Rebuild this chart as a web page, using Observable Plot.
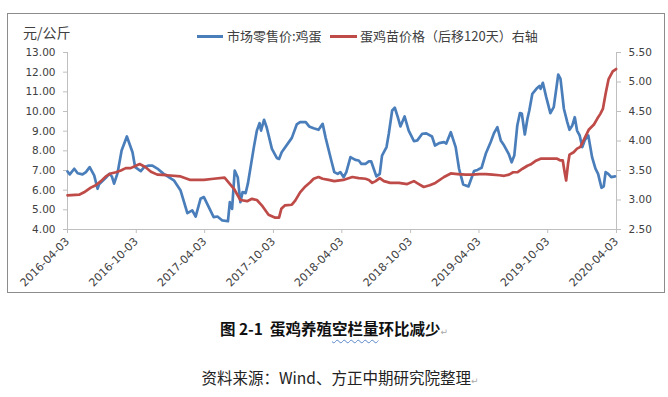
<!DOCTYPE html>
<html><head><meta charset="utf-8">
<script src="https://cdn.jsdelivr.net/npm/d3@7"></script>
<script src="https://cdn.jsdelivr.net/npm/@observablehq/plot@0.6"></script>
<style>
body{margin:0;background:#fff;}
#wrap{position:relative;width:668px;height:397px;overflow:hidden;font-family:"Noto Sans CJK SC",sans-serif;color:#404040;}
#chart{position:absolute;left:0;top:0;}
#frame{position:absolute;left:7px;top:13px;width:656px;height:278px;border:1px solid #8c8c8c;box-sizing:content-box;}
.abs{position:absolute;white-space:nowrap;line-height:16px;}
.sw{position:absolute;height:3px;}
.mark{font-family:"DejaVu Sans";font-size:9px;color:#a8a8a8;font-weight:normal;}
.wavy{text-decoration:underline wavy #5b86c9;text-underline-offset:4px;text-decoration-thickness:1px;}
</style></head>
<body><div id="wrap">
<div id="chart"></div>
<div id="frame"></div>
<div class="abs" style="left:23px;top:24px;font-size:14px;">元/公斤</div>
<div class="sw" style="left:197px;top:35px;width:26px;background:#4a7ebb;"></div>
<div class="abs" style="left:227px;top:28px;font-size:13px;">市场零售价:鸡蛋</div>
<div class="sw" style="left:330px;top:35px;width:27px;background:#be4b48;"></div>
<div class="abs" style="left:360px;top:28px;font-size:13px;">蛋鸡苗价格（后移120天）右轴</div>
<div class="abs" style="left:0;width:668px;text-align:center;top:320px;font-size:15.5px;font-weight:bold;color:#111;">图 2-1&nbsp; 蛋鸡养殖<span class="wavy">空栏量</span>环比减少<span class="mark">↵</span></div>
<div class="abs" style="left:6px;width:668px;text-align:center;top:369px;font-size:15.5px;color:#222;">资料来源：Wind、方正中期研究院整理<span class="mark">↵</span></div>
</div>
<script>
const eggDates = ["2016-04-03","2016-04-09","2016-04-21","2016-04-30","2016-05-13","2016-05-22","2016-06-01","2016-06-13","2016-06-22","2016-06-26","2016-07-14","2016-07-23","2016-07-30","2016-08-05","2016-08-14","2016-08-25","2016-09-08","2016-09-23","2016-09-30","2016-10-15","2016-10-24","2016-11-05","2016-11-15","2016-11-28","2016-12-15","2017-01-11","2017-01-29","2017-02-16","2017-03-01","2017-03-10","2017-03-23","2017-04-01","2017-04-14","2017-04-27","2017-05-07","2017-05-20","2017-06-04","2017-06-09","2017-06-15","2017-06-22","2017-06-30","2017-07-07","2017-07-13","2017-07-21","2017-07-27","2017-08-12","2017-08-20","2017-08-27","2017-08-31","2017-09-08","2017-09-15","2017-09-29","2017-10-12","2017-10-18","2017-10-25","2017-11-21","2017-12-04","2017-12-13","2017-12-28","2018-01-06","2018-01-18","2018-01-31","2018-02-11","2018-02-19","2018-03-06","2018-03-14","2018-03-23","2018-03-30","2018-04-08","2018-04-15","2018-04-26","2018-05-09","2018-05-18","2018-05-25","2018-06-05","2018-06-14","2018-06-20","2018-07-04","2018-07-13","2018-07-19","2018-07-31","2018-08-06","2018-08-15","2018-08-22","2018-08-30","2018-09-06","2018-09-17","2018-09-28","2018-10-12","2018-10-21","2018-11-03","2018-11-14","2018-11-29","2018-12-07","2018-12-18","2018-12-31","2019-01-06","2019-01-18","2019-01-31","2019-02-09","2019-02-20","2019-03-06","2019-03-21","2019-03-30","2019-04-10","2019-04-21","2019-05-04","2019-05-13","2019-05-22","2019-05-31","2019-06-09","2019-06-21","2019-06-29","2019-07-06","2019-07-14","2019-07-21","2019-07-26","2019-08-03","2019-08-10","2019-08-15","2019-08-23","2019-09-05","2019-09-11","2019-09-14","2019-09-20","2019-09-29","2019-10-10","2019-10-19","2019-10-31","2019-11-06","2019-11-15","2019-11-24","2019-11-30","2019-12-07","2019-12-14","2019-12-20","2019-12-27","2020-01-03","2020-01-10","2020-01-19","2020-01-29","2020-02-07","2020-02-14","2020-02-23","2020-02-29","2020-03-05","2020-03-12","2020-03-20","2020-03-30"];
const eggPrice = [6.95,6.8,7.09,6.86,6.8,6.92,7.17,6.75,6.07,6.3,6.63,6.83,6.7,6.33,6.85,8.02,8.73,7.93,7.17,6.97,7.17,7.25,7.25,7.1,6.83,6.5,5.98,4.83,4.97,4.66,5.56,5.65,5.14,4.63,4.66,4.46,4.42,5.39,5.05,7.0,6.66,5.39,5.9,5.85,6.33,8.19,9.03,9.41,9.03,9.58,9.2,8.1,7.64,7.59,7.93,8.66,9.34,9.46,9.46,9.24,9.15,9.07,9.37,8.66,7.51,6.92,6.83,6.92,6.66,6.92,7.68,7.54,7.51,7.34,7.34,7.46,7.47,6.7,6.83,7.76,8.19,8.87,10.05,10.19,9.71,9.24,9.75,9.03,8.49,8.53,8.87,8.89,8.73,8.27,8.39,8.44,8.37,8.95,8.19,7.09,6.29,6.19,6.97,7.03,7.14,7.85,8.44,8.9,9.2,8.53,8.27,7.85,7.42,7.76,9.29,9.92,9.9,8.83,9.63,10.05,10.9,11.2,11.3,11.15,11.46,10.73,9.92,10.22,11.88,11.66,10.14,9.46,9.07,9.27,9.71,9.03,8.78,8.19,8.56,8.78,7.68,7.09,6.83,6.12,6.19,6.92,6.83,6.66,6.7];
const chickDates = ["2016-04-03","2016-05-04","2016-05-17","2016-06-04","2016-06-17","2016-07-01","2016-07-14","2016-07-27","2016-08-10","2016-08-23","2016-09-05","2016-09-18","2016-10-02","2016-10-12","2016-10-27","2016-11-11","2016-11-28","2016-12-24","2017-01-29","2017-02-24","2017-04-01","2017-04-27","2017-05-26","2017-06-20","2017-07-07","2017-07-25","2017-08-07","2017-08-20","2017-09-02","2017-09-20","2017-10-08","2017-10-18","2017-10-24","2017-11-03","2017-11-21","2017-11-30","2017-12-13","2017-12-27","2018-01-09","2018-01-18","2018-01-31","2018-02-11","2018-02-27","2018-03-14","2018-04-07","2018-05-01","2018-05-18","2018-06-05","2018-06-14","2018-06-23","2018-07-02","2018-07-13","2018-07-24","2018-08-10","2018-09-02","2018-09-24","2018-10-12","2018-10-25","2018-11-07","2018-11-23","2018-12-08","2018-12-31","2019-01-18","2019-02-05","2019-02-27","2019-03-17","2019-04-04","2019-04-21","2019-05-09","2019-05-27","2019-06-09","2019-06-22","2019-07-03","2019-07-14","2019-07-28","2019-08-10","2019-08-18","2019-08-31","2019-09-14","2019-09-27","2019-10-15","2019-10-28","2019-11-06","2019-11-12","2019-11-17","2019-11-21","2019-11-26","2019-11-30","2019-12-11","2019-12-20","2019-12-29","2020-01-07","2020-01-20","2020-02-03","2020-02-12","2020-02-20","2020-02-27","2020-03-05","2020-03-13","2020-03-24","2020-04-02"];
const chickPrice = [3.08,3.09,3.13,3.21,3.25,3.32,3.4,3.45,3.47,3.5,3.54,3.54,3.58,3.61,3.56,3.48,3.43,3.42,3.4,3.34,3.34,3.36,3.38,3.19,3.0,2.98,3.02,3.0,2.91,2.75,2.7,2.7,2.85,2.91,2.92,2.99,3.13,3.23,3.3,3.36,3.39,3.36,3.34,3.32,3.34,3.39,3.37,3.36,3.34,3.29,3.32,3.37,3.32,3.29,3.29,3.27,3.32,3.27,3.22,3.25,3.29,3.39,3.45,3.44,3.43,3.43,3.44,3.44,3.43,3.42,3.41,3.43,3.47,3.47,3.53,3.58,3.6,3.66,3.7,3.7,3.7,3.7,3.67,3.67,3.47,3.33,3.61,3.77,3.81,3.87,3.9,4.02,4.19,4.28,4.38,4.46,4.55,4.8,5.05,5.18,5.22];
const leftTicks = [4,5,6,7,8,9,10,11,12,13];
const rightTicks = [2.5,3,3.5,4,4.5,5,5.5];
const xTicks = ["2016-04-03","2016-10-03","2017-04-03","2017-10-03","2018-04-03","2018-10-03","2019-04-03","2019-10-03","2020-04-03"];

const parse = d3.utcParse("%Y-%m-%d");
const egg = eggDates.map((d,i)=>({date:parse(d), v:eggPrice[i]}));
const chick = chickDates.map((d,i)=>({date:parse(d), v:chickPrice[i]}));
const L0=4,L1=13,R0=2.5,R1=5.5;
const toLeft = v => L0 + (v-R0)*(L1-L0)/(R1-R0);
const fromLeft = y => R0 + (y-L0)*(R1-R0)/(L1-L0);
const xDom = [parse(xTicks[0]), parse(xTicks[xTicks.length-1])];
const axisCol = "#bfbfbf", textCol = "#404040";

const plot = Plot.plot({
  width:668, height:292,
  marginLeft:67, marginRight:52, marginTop:52, marginBottom:63,
  style:{fontFamily:"DejaVu Sans", fontSize:"10.5px", color:textCol, background:"transparent", overflow:"visible"},
  x:{type:"utc", domain:xDom},
  y:{domain:[L0,L1]},
  marks:[
    Plot.ruleX([xDom[0]], {stroke:axisCol}),
    Plot.ruleX([xDom[1]], {stroke:axisCol}),
    Plot.ruleY([L0], {stroke:axisCol}),
    Plot.axisY({ticks:leftTicks, tickFormat:d=>d.toFixed(2), tickSize:4, tickPadding:8, stroke:axisCol, fill:textCol, label:null}),
    Plot.axisY({anchor:"right", ticks:rightTicks.map(toLeft), tickFormat:d=>fromLeft(d).toFixed(2), tickSize:4, tickPadding:8, stroke:axisCol, fill:textCol, label:null}),
    Plot.axisX({ticks:xTicks.map(parse), tickFormat:d3.utcFormat("%Y-%m-%d"), tickRotate:-45, tickSize:4, tickPadding:6, fontSize:11, stroke:axisCol, fill:textCol, label:null}),
    Plot.line(egg, {x:"date", y:"v", stroke:"#4a7ebb", strokeWidth:2.7, strokeLinejoin:"round"}),
    Plot.line(chick, {x:"date", y:d=>toLeft(d.v), stroke:"#be4b48", strokeWidth:2.7, strokeLinejoin:"round"})
  ]
});
document.getElementById("chart").appendChild(plot);
</script>
</body></html>
